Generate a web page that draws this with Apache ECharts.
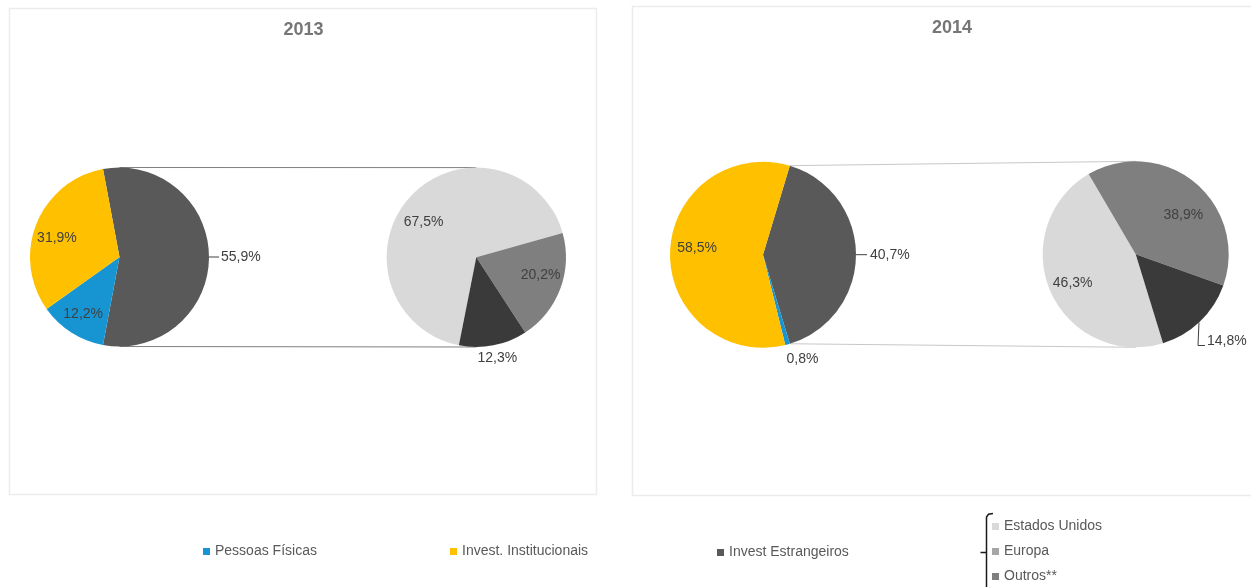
<!DOCTYPE html>
<html><head><meta charset="utf-8">
<script src="https://cdn.jsdelivr.net/npm/echarts@6/dist/echarts.min.js"></script>
<style>html,body{margin:0;padding:0;background:#fff}#c{width:1251px;height:587px}</style>
</head><body><div id="c"></div>
<script>
// ---- data ----
const years = ['2013', '2014'];
const mainCategories = ['Pessoas Físicas', 'Invest. Institucionais', 'Invest Estrangeiros'];
const main2013 = [12.2, 31.9, 55.9];
const main2014 = [0.8, 58.5, 40.7];
const subCategories = ['Estados Unidos', 'Europa', 'Outros**'];
const sub2013 = [67.5, 20.2, 12.3];
const sub2014 = [46.3, 38.9, 14.8];

// ---- styles / layout ----
const FONT = "'Liberation Sans', Arial, sans-serif";
const LABEL_COLOR = '#404040';
const mainColors = ['#1795d3', '#ffc000', '#595959'];
const subColors = ['#d9d9d9', '#7f7f7f', '#3a3a3a'];
const subLegendColors = ['#d9d9d9', '#a6a6a6', '#7f7f7f'];
const mainOrder = [2, 0, 1]; // split slice drawn first, centred at 3 o'clock

const panels = [
  { year: years[0], main: main2013, sub: sub2013,
    box: {x: 9.5, y: 8.5, w: 587, h: 486}, titleX: 303.5, titleY: 30,
    P: {cx: 119.5, cy: 257, r: 89.5}, S: {cx: 476.3, cy: 257.3, r: 89.7},
    subStart: 258.8, lineColor: '#808080',
    mainLabels: [{type: 'inside', dx: 0, dy: 0}, {type: 'inside', dx: 0, dy: 6}, {type: 'line', len: 4, len2: 6, dist: 2}],
    subLabels: [{type: 'inside', dx: -3, dy: 11}, {type: 'inside', dx: 1, dy: -6}, {type: 'offset', dx: 4, dy: 13}] },
  { year: years[1], main: main2014, sub: sub2014,
    box: {x: 632.5, y: 6.5, w: 640, h: 489}, titleX: 952, titleY: 28,
    P: {cx: 763, cy: 254.7, r: 93}, S: {cx: 1135.7, cy: 254.3, r: 93},
    subStart: 287.1, lineColor: '#c8c8c8',
    mainLabels: [{type: 'offset', dx: 15, dy: 15}, {type: 'inside', dx: 4, dy: -5}, {type: 'line', len: 4, len2: 7, dist: 3}],
    subLabels: [{type: 'inside', dx: 1, dy: 1}, {type: 'inside', dx: 3, dy: 15}, {type: 'elbow'}] }
];

const fmt = p => p.value.toFixed(1).replace('.', ',') + '%';
const labelText = {fontSize: 14, color: LABEL_COLOR, fontFamily: FONT};

function buildSeries(cats, vals, order, colors, geo, startAngle, labelCfgs) {
  const cfgByIdx = order.map(i => labelCfgs[i]);
  const mainData = order.map(i => {
    const cfg = labelCfgs[i];
    const outside = cfg.type !== 'inside';
    return {
      name: cats[i], value: vals[i],
      itemStyle: {color: colors[i]},
      label: {show: outside, position: 'outside', distanceToLabelLine: cfg.dist || 2},
      labelLine: {show: outside, length: cfg.len || 4, length2: cfg.len2 || 4,
        lineStyle: {color: LABEL_COLOR, width: 1, opacity: cfg.type === 'offset' ? 0 : 1}}
    };
  });
  const ringData = order.map(i => ({
    name: cats[i], value: vals[i],
    itemStyle: {color: 'rgba(0,0,0,0)'},
    label: {show: labelCfgs[i].type === 'inside'}
  }));
  const base = {
    type: 'pie', center: [geo.cx, geo.cy], startAngle: startAngle, clockwise: true,
    avoidLabelOverlap: false, animation: false
  };
  return [
    Object.assign({}, base, {
      radius: [0, geo.r], z: 2,
      itemStyle: {borderWidth: 0},
      label: Object.assign({formatter: fmt}, labelText),
      emphasis: {disabled: true},
      data: mainData,
      labelLayout: function (params) {
        const cfg = cfgByIdx[params.dataIndex];
        const pts = params.labelLinePoints;
        if (!cfg || !pts) return;
        const p0 = pts[0];
        if (cfg.type === 'offset') {
          return {x: p0[0] + cfg.dx, y: p0[1] + cfg.dy, align: 'center', verticalAlign: 'middle'};
        }
        if (cfg.type === 'elbow') {
          const a = [p0[0] - 1, p0[1] + 1], b = [p0[0] - 2, p0[1] + 24], c = [p0[0] + 5, p0[1] + 24];
          return {x: c[0] + 2, y: c[1] - 4, align: 'left', verticalAlign: 'middle', labelLinePoints: [a, b, c]};
        }
      }
    }),
    Object.assign({}, base, {
      radius: [geo.r * 0.44, geo.r], z: 3, silent: true,
      label: Object.assign({position: 'inside', formatter: fmt}, labelText),
      labelLine: {show: false},
      emphasis: {disabled: true},
      data: ringData,
      labelLayout: function (params) {
        const cfg = cfgByIdx[params.dataIndex];
        if (!cfg || cfg.type !== 'inside') return;
        return {dx: cfg.dx || 0, dy: cfg.dy || 0};
      }
    })
  ];
}

const series = [];
const graphics = [];
panels.forEach(pn => {
  // panel frame
  graphics.push({type: 'rect', z: -10, shape: {x: pn.box.x, y: pn.box.y, width: pn.box.w, height: pn.box.h},
    style: {fill: '#fff', stroke: '#ececec', lineWidth: 1.5}});
  graphics.push({type: 'text', z: 5, x: pn.titleX, y: pn.titleY,
    style: {text: pn.year, fontSize: 18, fontWeight: 'bold', fill: '#767676', fontFamily: FONT, align: 'center', verticalAlign: 'middle'}});
  // connector lines between the split slice and the secondary pie
  const splitShare = pn.main[mainOrder[0]] / pn.main.reduce((a, b) => a + b, 0);
  const half = splitShare * Math.PI; // half angle in radians
  let top, bot;
  if (half > Math.PI / 2) {
    top = [pn.P.cx, pn.P.cy - pn.P.r]; bot = [pn.P.cx, pn.P.cy + pn.P.r];
  } else {
    top = [pn.P.cx + pn.P.r * Math.cos(half), pn.P.cy - pn.P.r * Math.sin(half)];
    bot = [pn.P.cx + pn.P.r * Math.cos(half), pn.P.cy + pn.P.r * Math.sin(half)];
  }
  [[top, [pn.S.cx, pn.S.cy - pn.S.r]], [bot, [pn.S.cx, pn.S.cy + pn.S.r]]].forEach(l => {
    graphics.push({type: 'line', z: 0, shape: {x1: l[0][0], y1: l[0][1], x2: l[1][0], y2: l[1][1]},
      style: {stroke: pn.lineColor, lineWidth: 1}});
  });
  const startMain = splitShare * 180;
  series.push(...buildSeries(mainCategories, pn.main, mainOrder, mainColors, pn.P, startMain, pn.mainLabels));
  series.push(...buildSeries(subCategories, pn.sub, [0, 1, 2], subColors, pn.S, pn.subStart, pn.subLabels));
});

// bracket in front of the secondary legend
graphics.push({type: 'polyline', z: 5, shape: {points: [[993, 513.5], [988.5, 514.3], [986.5, 517], [986.5, 587]]},
  style: {stroke: '#1a1a1a', lineWidth: 1.5, fill: null}});
graphics.push({type: 'line', z: 5, shape: {x1: 980.5, y1: 552.5, x2: 986.5, y2: 552.5},
  style: {stroke: '#1a1a1a', lineWidth: 1.5}});

const legendCommon = {icon: 'rect', itemWidth: 7, itemHeight: 7, selectedMode: false, padding: 0,
  textStyle: {fontSize: 14, color: '#595959', fontFamily: FONT, lineHeight: 15}};
const legends = [
  Object.assign({}, legendCommon, {left: 203, top: 544, data: [{name: mainCategories[0], itemStyle: {color: mainColors[0]}}]}),
  Object.assign({}, legendCommon, {left: 450, top: 544, data: [{name: mainCategories[1], itemStyle: {color: mainColors[1]}}]}),
  Object.assign({}, legendCommon, {left: 717, top: 545, data: [{name: mainCategories[2], itemStyle: {color: mainColors[2]}}]}),
  Object.assign({}, legendCommon, {left: 992, top: 519, orient: 'vertical', itemGap: 10,
    data: subCategories.map((n, i) => ({name: n, itemStyle: {color: subLegendColors[i]}}))})
];

const chart = echarts.init(document.getElementById('c'), null, {renderer: 'canvas'});
chart.setOption({
  backgroundColor: '#ffffff',
  animation: false,
  textStyle: {fontFamily: FONT},
  graphic: {elements: graphics},
  legend: legends,
  series: series
});
</script>
</body></html>
